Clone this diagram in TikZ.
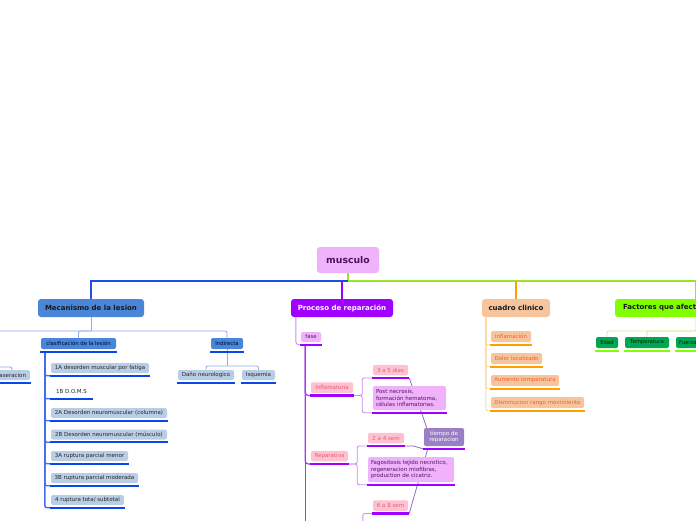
\documentclass[tikz,border=0pt]{standalone}
\usepackage{fontspec}
\setmainfont{DejaVu Sans}
\usetikzlibrary{backgrounds}
\definecolor{mecblue}{HTML}{4A86D8}
\definecolor{topblue}{HTML}{1F4FE0}
\definecolor{ltblue}{HTML}{8CAEF2}
\definecolor{spineblue}{HTML}{3F6FEA}
\definecolor{ulblue}{HTML}{0A46F0}
\definecolor{itemblue}{HTML}{B9CDE5}
\definecolor{musfill}{HTML}{F0B2FA}
\definecolor{mustext}{HTML}{4B1460}
\definecolor{procfill}{HTML}{A000FF}
\definecolor{spinepurp}{HTML}{A838F0}
\definecolor{ltpurp}{HTML}{C98CF2}
\definecolor{pinkfill}{HTML}{FFC0CF}
\definecolor{pinktext}{HTML}{E0607C}
\definecolor{tiempofill}{HTML}{9A7EC6}
\definecolor{tline}{HTML}{8E6AC0}
\definecolor{peach}{HTML}{F6C59E}
\definecolor{orline}{HTML}{FFA000}
\definecolor{ltor}{HTML}{FFD898}
\definecolor{ortext}{HTML}{F5602A}
\definecolor{lime}{HTML}{80FF00}
\definecolor{ltgreen}{HTML}{CDEFA0}
\definecolor{dgreen}{HTML}{00A651}
\definecolor{topgreen}{HTML}{9BE22A}
\newcommand\ulin[2]{\draw[line width=2.4pt,#2] ([xshift=-1pt,yshift=-2.5pt]#1.south west) coordinate (#1w) -- ([xshift=1pt,yshift=-2.5pt]#1.south east) coordinate (#1e);}
\tikzset{
  box/.style={rounded corners=2pt, inner sep=0pt, align=center},
  bigf/.style={font=\fontsize{7}{8}\selectfont\bfseries},
  smf/.style={font=\fontsize{5.5}{6.6}\selectfont},
  xsf/.style={font=\fontsize{5.3}{6.3}\selectfont},
  itemb/.style={box, smf, fill=itemblue, text=black!85, minimum height=10pt},
  pinkb/.style={box, smf, fill=pinkfill, text=pinktext, minimum height=10.5pt},
  orb/.style={box, smf, fill=peach, text=ortext, minimum height=11pt},
  grb/.style={box, xsf, fill=dgreen, text=black!85!green, minimum height=11pt},
  conn/.style={line width=0.9pt, rounded corners=2pt},
}
\begin{document}
\begin{tikzpicture}[x=1pt,y=-1pt]
\useasboundingbox (0,0) rectangle (696,520);
\clip (0,0) rectangle (696,520);
% main nodes
\node[box, font=\fontsize{9.3}{11}\selectfont\bfseries, fill=musfill, text=mustext, minimum width=62pt, minimum height=26pt, rounded corners=3pt] (mus) at (348,260) {musculo};
\node[box, bigf, fill=mecblue, text=black!90, minimum width=106pt, minimum height=18pt, rounded corners=3pt] (mec) at (91,308) {Mecanismo de la lesion};
\node[box, bigf, fill=procfill, text=white, minimum width=102pt, minimum height=18pt, rounded corners=3pt] (proc) at (342,308) {Proceso de reparación};
\node[box, bigf, fill=peach, text=black!90, minimum width=68pt, minimum height=18pt, rounded corners=3pt] (cuadro) at (516,308) {cuadro clinico};
\node[box, bigf, fill=lime, text=black!90, minimum height=18pt, rounded corners=3pt, text width=146pt, inner xsep=8pt, align=left] (fact) at (696,308) {Factores que afectan};
% Mecanismo subtree
\node[box, xsf, fill=mecblue, text=black!80!blue, minimum width=75pt, minimum height=11pt] (clasif) at (78.5,343.5) {clasificación de la lesión};
\node[box, xsf, fill=mecblue, text=black!80!blue, minimum width=32pt, minimum height=11pt] (indir) at (227,343.5) {Indirecta};
\node[itemb, minimum width=36pt] (lacer) at (12,375) {laseracion};
\node[itemb, minimum width=56pt] (dano) at (206,375) {Daño neurologico};
\node[itemb, minimum width=33pt] (isq) at (258.5,375) {Isquemia};
\node[itemb, minimum width=98pt] (iA) at (100,368) {1A desorden muscular por fatiga};
\node[box, smf, text=black!85, minimum width=41pt, minimum height=10pt] (iB) at (71.5,391) {1B D.O.M.S};
\node[itemb, minimum width=116pt] (iC) at (109,413) {2A Desorden neuromuscular (columna)};
\node[itemb, minimum width=116pt] (iD) at (109,434.5) {2B Desorden neuromuscular (músculo)};
\node[itemb, minimum width=77pt] (iE) at (89.5,456) {3A ruptura parcial menor};
\node[itemb, minimum width=87pt] (iF) at (94.5,478) {3B ruptura parcial moderada};
\node[itemb, minimum width=73pt] (iG) at (87.5,500) {4 ruptura tota/ subtotal};
% Proceso subtree
\node[box, xsf, fill=musfill, text=mustext, minimum width=20pt, minimum height=10pt] (fase) at (311,337) {fase};
\node[pinkb, minimum width=42pt] (infl) at (332,387.5) {Inflamatoria};
\node[pinkb, minimum width=37pt] (repar) at (329.5,456) {Reparativa};
\node[pinkb, minimum width=35pt] (dA) at (390.5,370) {3 a 5 dias};
\node[pinkb, minimum width=36pt] (dB) at (386,438) {2 a 4 sem};
\node[pinkb, minimum width=35pt] (dC) at (390.5,505.5) {6 a 8 sem};
\node[box, smf, fill=musfill, text=mustext, text width=67pt, inner xsep=3pt, align=left, minimum height=24pt] (post) at (409.5,398) {Post necrosis,\\formación hematoma,\\células inflamatorias.};
\node[box, smf, fill=musfill, text=mustext, text width=80pt, inner xsep=3pt, align=left, minimum height=25pt] (fago) at (411,469.5) {Fagositosis tejido necrotico,\\regeneracion miofibras,\\production de cicatriz.};
\node[box, smf, fill=tiempofill, text=white, minimum width=40pt, minimum height=18pt] (tiempo) at (444,437) {tiempo de\\reparacion};
% cuadro clinico
\node[orb, minimum width=40pt] (cA) at (511,336.5) {Inflamación};
\node[orb, minimum width=51pt] (cB) at (516.5,358.5) {Dolor localizado};
\node[orb, minimum width=68pt] (cC) at (525,380.5) {Aumento temperatura};
\node[orb, minimum width=93pt] (cD) at (537.5,402.5) {Disminucion rango movimiento};
% Factores
\node[grb, minimum width=22pt] (edad) at (607,342.5) {Edad};
\node[grb, minimum width=44pt] (temp) at (647,342.5) {Temperatura};
\node[grb, minimum width=42pt, text width=36pt, inner xsep=3pt, align=left] (fuer) at (697,342.5) {Fuerza};
% underlines
\ulin{clasif}{ulblue}\ulin{indir}{ulblue}\ulin{lacer}{ulblue}\ulin{dano}{ulblue}\ulin{isq}{ulblue}
\ulin{iA}{ulblue}\ulin{iB}{ulblue}\ulin{iC}{ulblue}\ulin{iD}{ulblue}\ulin{iE}{ulblue}\ulin{iF}{ulblue}\ulin{iG}{ulblue}
\ulin{fase}{procfill}\ulin{infl}{procfill}\ulin{repar}{procfill}\ulin{dA}{procfill}\ulin{dB}{procfill}\ulin{dC}{procfill}
\ulin{post}{procfill}\ulin{fago}{procfill}\ulin{tiempo}{procfill}
\ulin{cA}{orline}\ulin{cB}{orline}\ulin{cC}{orline}\ulin{cD}{orline}
\ulin{edad}{lime}\ulin{temp}{lime}\ulin{fuer}{lime}
% connectors
\begin{scope}[on background layer]
\clip (0,0) rectangle (696,520);
\coordinate (hub) at (mus.south |- 0,281);
\draw[topgreen, line width=1.3pt] (mus.south) -- (hub) -| (fact.north);
\draw[topblue, line width=1.1pt] (hub) -| (mec.north);
\draw[procfill, line width=1.1pt] (proc.north |- hub) -- (proc.north);
\draw[orline, line width=1.1pt] (cuadro.north |- hub) -- (cuadro.north);
% mecanismo
\coordinate (mj) at (mec.south |- 0,331);
\coordinate (mleft) at (0,331);
\coordinate (lleft) at (0,367);
\draw[ltblue, conn] (mec.south) -- (mj);
\draw[ltblue, conn] (mleft) -| (indir.north);
\draw[ltblue, conn] (mj) -| (clasif.north);
\draw[ltblue, conn] (lleft) -| (lacer.north);
\coordinate (ij) at (indir.south |- 0,366);
\draw[ltblue, conn] (indir.south) -- (ij);
\draw[ltblue, conn] (ij) -| (dano.north);
\draw[ltblue, conn] (ij) -| (isq.north);
\coordinate (csp) at ([xshift=5pt]clasifw);
\foreach \n in {iA,iB,iC,iD,iE,iF,iG}
  \draw[spineblue, line width=1.4pt, rounded corners=2pt] (csp) |- (\n w);
% proceso
\draw[ltpurp, conn, rounded corners=3pt] ([xshift=5pt]proc.south west) |- (fasew);
\coordinate (fsp) at ([xshift=5.5pt]fasew);
\coordinate (fbot) at (fsp |- 0,522);
\draw[spinepurp, line width=1.2pt, rounded corners=3pt] (fsp) |- (inflw);
\draw[spinepurp, line width=1.2pt, rounded corners=3pt] (fsp) |- (reparw);
\draw[spinepurp, line width=1.2pt] (fsp) -- (fbot);
\draw[ltpurp, conn] (infle) -- ++(8,0) |- (dAw);
\draw[ltpurp, conn] (infle) -- ++(8,0) |- (postw);
\draw[ltpurp, conn] (repare) -- ++(8,0) |- (dBw);
\draw[ltpurp, conn] (repare) -- ++(8,0) |- (fagow);
\coordinate (sd) at ([xshift=-9pt]dCw);
\coordinate (sb) at (sd |- 0,522);
\draw[ltpurp, conn] (dCw) -| (sb);
\draw[tline, line width=0.8pt] (dAe) -- ([xshift=3pt]tiempo.north west);
\draw[tline, line width=0.8pt] (dBe) -- ++(8,0) -- (tiempow);
\draw[tline, line width=0.8pt] ([xshift=5pt]tiempow) -- (dCe);
% cuadro
\coordinate (osp) at ([xshift=4pt]cuadro.south west);
\foreach \n in {cA,cB,cC,cD}
  \draw[ltor, conn] (osp) |- (\n w);
% factores
\coordinate (fj) at (fact.south |- 0,331);
\draw[ltgreen, conn] (fact.south) -- (fj) -| (edad.north);
\draw[ltgreen, conn] (fj) -| (temp.north);
\draw[ltgreen, conn] (fact.south) -- (fuer.north);
\end{scope}
\end{tikzpicture}
\end{document}
